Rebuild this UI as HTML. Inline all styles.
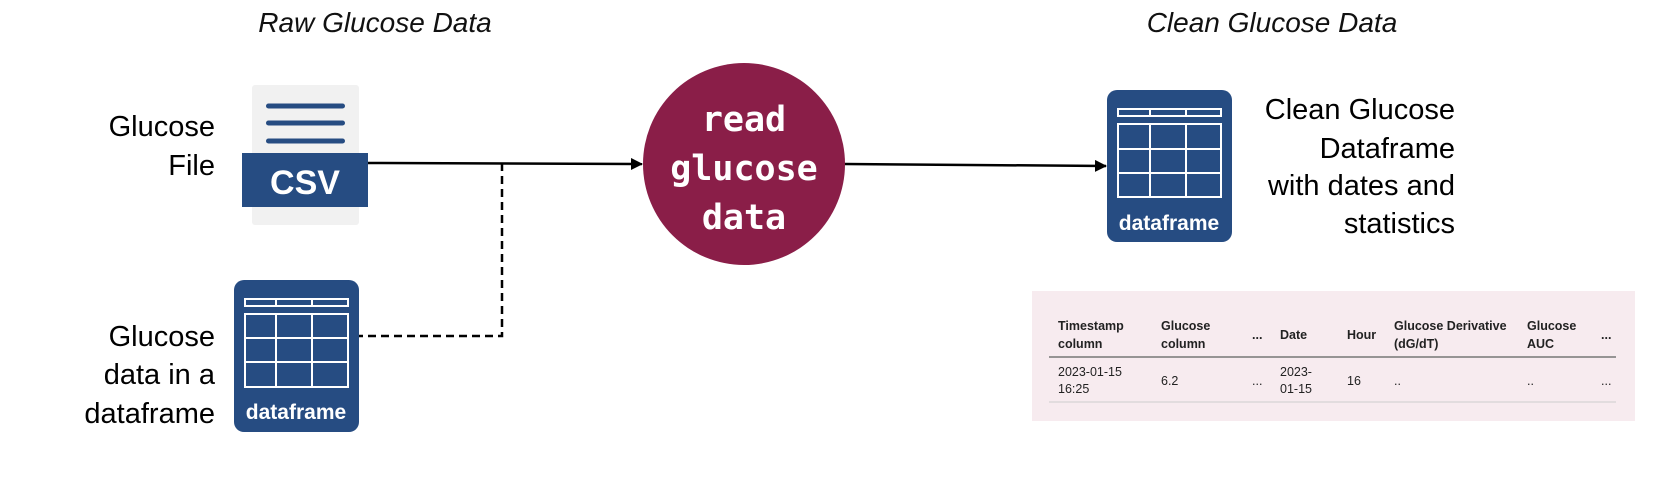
<!DOCTYPE html>
<html><head><meta charset="utf-8"><style>
html,body{margin:0;padding:0;background:#fff;}
svg{display:block;}
</style></head><body>
<svg width="1660" height="482" viewBox="0 0 1660 482" xmlns="http://www.w3.org/2000/svg">
<defs>
<marker id="ah" markerWidth="12" markerHeight="12" refX="11" refY="6" orient="auto" markerUnits="userSpaceOnUse">
<path d="M0,0 L12,6 L0,12 z" fill="#000"/>
</marker>
</defs>
<g font-family="Liberation Sans, sans-serif">
<text x="375" y="32" font-size="28" font-style="italic" text-anchor="middle" fill="#111">Raw Glucose Data</text>
<text x="1272" y="32" font-size="28" font-style="italic" text-anchor="middle" fill="#111">Clean Glucose Data</text>

<text x="215" y="136" font-size="29" text-anchor="end" fill="#000">Glucose</text>
<text x="215" y="175" font-size="29" text-anchor="end" fill="#000">File</text>
<text x="215" y="346" font-size="29" text-anchor="end" fill="#000">Glucose</text>
<text x="215" y="384" font-size="29" text-anchor="end" fill="#000">data in a</text>
<text x="215" y="423" font-size="29" text-anchor="end" fill="#000">dataframe</text>

<!-- CSV doc -->
<rect x="252" y="85" width="107" height="140" rx="3" fill="#f1f1f1"/>
<rect x="266" y="103.5" width="79" height="5" rx="2.5" fill="#264c82"/>
<rect x="266" y="120.5" width="79" height="5" rx="2.5" fill="#264c82"/>
<rect x="266" y="138.5" width="79" height="5" rx="2.5" fill="#264c82"/>
<rect x="242" y="153" width="126" height="54" fill="#264c82"/>
<text x="305" y="194" font-size="34" font-weight="bold" text-anchor="middle" fill="#fff">CSV</text>

<!-- connectors -->
<line x1="368" y1="163" x2="642" y2="164" stroke="#000" stroke-width="2.5" marker-end="url(#ah)"/>
<polyline points="502,163 502,336 359,336" fill="none" stroke="#000" stroke-width="2.5" stroke-dasharray="8,5"/>
<line x1="845" y1="164" x2="1106" y2="166" stroke="#000" stroke-width="2.5" marker-end="url(#ah)"/>

<!-- circle -->
<circle cx="744" cy="164" r="101" fill="#8a1e48"/>
<g font-family="DejaVu Sans Mono, Liberation Mono, monospace" font-size="35" font-weight="bold" fill="#fff" text-anchor="middle">
<text x="744" y="131">read</text>
<text x="744" y="180">glucose</text>
<text x="744" y="229">data</text>
</g>

<!-- left dataframe -->
<g transform="translate(234,280)">
<rect width="125" height="152" rx="10" fill="#264c82"/>
<rect x="11" y="19" width="103" height="7" fill="none" stroke="#fff" stroke-width="2"/>
<line x1="42" y1="19" x2="42" y2="26" stroke="#fff" stroke-width="2"/>
<line x1="78" y1="19" x2="78" y2="26" stroke="#fff" stroke-width="2"/>
<rect x="11" y="34" width="103" height="73" fill="none" stroke="#fff" stroke-width="2"/>
<line x1="42" y1="34" x2="42" y2="107" stroke="#fff" stroke-width="2"/>
<line x1="78" y1="34" x2="78" y2="107" stroke="#fff" stroke-width="2"/>
<line x1="11" y1="58" x2="114" y2="58" stroke="#fff" stroke-width="2"/>
<line x1="11" y1="82" x2="114" y2="82" stroke="#fff" stroke-width="2"/>
<text x="62" y="139" font-size="21" font-weight="bold" text-anchor="middle" fill="#fff">dataframe</text>
</g>
<!-- right dataframe -->
<g transform="translate(1107,90)">
<rect width="125" height="152" rx="10" fill="#264c82"/>
<rect x="11" y="19" width="103" height="7" fill="none" stroke="#fff" stroke-width="2"/>
<line x1="43" y1="19" x2="43" y2="26" stroke="#fff" stroke-width="2"/>
<line x1="79" y1="19" x2="79" y2="26" stroke="#fff" stroke-width="2"/>
<rect x="11" y="34" width="103" height="73" fill="none" stroke="#fff" stroke-width="2"/>
<line x1="43" y1="34" x2="43" y2="107" stroke="#fff" stroke-width="2"/>
<line x1="79" y1="34" x2="79" y2="107" stroke="#fff" stroke-width="2"/>
<line x1="11" y1="59" x2="114" y2="59" stroke="#fff" stroke-width="2"/>
<line x1="11" y1="83" x2="114" y2="83" stroke="#fff" stroke-width="2"/>
<text x="62" y="140" font-size="21" font-weight="bold" text-anchor="middle" fill="#fff">dataframe</text>
</g>

<g font-size="29" text-anchor="end" fill="#000">
<text x="1455" y="119">Clean Glucose</text>
<text x="1455" y="158">Dataframe</text>
<text x="1455" y="195">with dates and</text>
<text x="1455" y="233">statistics</text>
</g>

<!-- table panel -->
<rect x="1032" y="291" width="603" height="130" fill="#f7ebef"/>
<g font-size="12.5" fill="#222">
<g font-weight="bold">
<text x="1058" y="330">Timestamp</text><text x="1058" y="348">column</text>
<text x="1161" y="330">Glucose</text><text x="1161" y="348">column</text>
<text x="1252" y="339">...</text>
<text x="1280" y="339">Date</text>
<text x="1347" y="339">Hour</text>
<text x="1394" y="330">Glucose Derivative</text><text x="1394" y="348">(dG/dT)</text>
<text x="1527" y="330">Glucose</text><text x="1527" y="348">AUC</text>
<text x="1601" y="339">...</text>
</g>
<line x1="1049" y1="357" x2="1616" y2="357" stroke="#777" stroke-width="1.5"/>
<text x="1058" y="376">2023-01-15</text><text x="1058" y="393">16:25</text>
<text x="1161" y="385">6.2</text>
<text x="1252" y="385">...</text>
<text x="1280" y="376">2023-</text><text x="1280" y="393">01-15</text>
<text x="1347" y="385">16</text>
<text x="1394" y="385">..</text>
<text x="1527" y="385">..</text>
<text x="1601" y="385">...</text>
<line x1="1049" y1="402" x2="1616" y2="402" stroke="#ccc" stroke-width="1"/>
</g>
</g>
</svg>
</body></html>
